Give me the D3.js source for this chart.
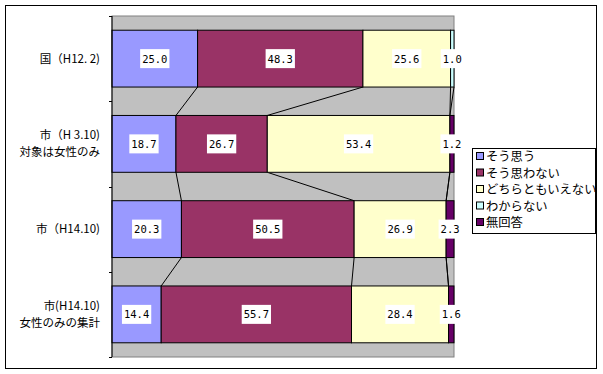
<!DOCTYPE html>
<html>
<head>
<meta charset="utf-8">
<script src="https://cdn.jsdelivr.net/npm/d3@7"></script>
<style>
  body { margin: 0; background: #fff; }
  svg { display: block; }
</style>
</head>
<body>
<svg id="chart" width="603" height="374"></svg>
<script>
// 100% stacked bar chart, answers by survey

const categories = [
  ["国（H12. 2)"],
  ["市（H 3.10)", "対象は女性のみ"],
  ["市（H14.10)"],
  ["市(H14.10)", "女性のみの集計"],
];
const seriesNames = ["そう思う", "そう思わない", "どちらともいえない", "わからない", "無回答"];
const seriesColors = ["#9999FF", "#993366", "#FFFFCC", "#CCFFFF", "#660066"];

const soOmou = [25.0, 18.7, 20.3, 14.4];
const soOmowanai = [48.3, 26.7, 50.5, 55.7];
const dochiraTomo = [25.6, 53.4, 26.9, 28.4];
const wakaranai = [1.0, 0, 0, 0];
const mukaito = [0, 1.2, 2.3, 1.6];

const allSeries = [soOmou, soOmowanai, dochiraTomo, wakaranai, mukaito];

const svg = d3.select("#chart");
const plot = { left: 112, top: 16, right: 454, bottom: 357 };

// outer frame
svg.append("rect")
  .attr("x", 5.5).attr("y", 5.5)
  .attr("width", 591).attr("height", 363)
  .attr("fill", "#fff")
  .attr("stroke", "#000");

// plot background
svg.append("rect")
  .attr("x", plot.left).attr("y", plot.top)
  .attr("width", plot.right - plot.left)
  .attr("height", plot.bottom - plot.top)
  .attr("fill", "#C0C0C0")
  .attr("stroke", "#808080");

const x = d3.scaleLinear().domain([0, 100]).range([plot.left, plot.right]);
const y = d3.scaleBand()
  .domain(d3.range(categories.length))
  .range([plot.top, plot.bottom])
  .paddingInner(1 / 3)
  .paddingOuter(1 / 6);

// build stacked rows (normalized to 100%)
const rows = categories.map((c, i) => {
  const vals = allSeries.map((s) => s[i]);
  const total = d3.sum(vals);
  let acc = 0;
  return vals.map((v, k) => {
    const x0 = (acc / total) * 100;
    acc += v;
    const x1 = (acc / total) * 100;
    return { row: i, series: k, value: v, x0: x0, x1: x1 };
  });
});

// series lines between bars
const lines = svg.append("g");
for (let i = 0; i < rows.length - 1; i++) {
  for (let k = 0; k < seriesNames.length - 1; k++) {
    lines.append("line")
      .attr("x1", x(rows[i][k].x1))
      .attr("y1", y(i) + y.bandwidth())
      .attr("x2", x(rows[i + 1][k].x1))
      .attr("y2", y(i + 1))
      .attr("stroke", "#000")
      .attr("stroke-width", 1);
  }
}

// bars
const segs = rows.flat();
svg.append("g")
  .selectAll("rect")
  .data(segs.filter((d) => d.value > 0))
  .enter()
  .append("rect")
  .attr("x", (d) => x(d.x0))
  .attr("y", (d) => y(d.row))
  .attr("width", (d) => x(d.x1) - x(d.x0))
  .attr("height", y.bandwidth())
  .attr("fill", (d) => seriesColors[d.series])
  .attr("stroke", "#000")
  .attr("stroke-width", 1);

// left axis
svg.append("line")
  .attr("x1", plot.left).attr("x2", plot.left)
  .attr("y1", plot.top).attr("y2", plot.bottom)
  .attr("stroke", "#000");
const tickYs = d3.range(categories.length + 1).map((i) =>
  i === categories.length ? plot.bottom : y(i) - y.step() * y.paddingInner() / 2
);
tickYs[0] = plot.top;
svg.append("g")
  .selectAll("line")
  .data(tickYs)
  .enter()
  .append("line")
  .attr("x1", plot.left - 3).attr("x2", plot.left)
  .attr("y1", (d) => Math.round(d) + 0.5).attr("y2", (d) => Math.round(d) + 0.5)
  .attr("stroke", "#000");

// category labels
const catLabels = svg.append("g");
categories.forEach((lines, i) => {
  const cy = y(i) + y.bandwidth() / 2;
  const t = catLabels.append("text")
    .attr("text-anchor", "end")
    .attr("font-family", "'Noto Sans CJK JP', sans-serif")
    .attr("font-size", 11.5)
    .attr("fill", "#000");
  lines.forEach((ln, j) => {
    t.append("tspan")
      .attr("x", 100)
      .attr("y", cy + (j - (lines.length - 1) / 2) * 17 + 4)
      .text(ln);
  });
});

// data labels with white boxes
const labels = svg.append("g");
segs.filter((d) => d.value > 0).forEach((d) => {
  const cx = (x(d.x0) + x(d.x1)) / 2;
  const cy = y(d.row) + y.bandwidth() / 2;
  const g = labels.append("g");
  const box = g.append("rect").attr("fill", "#fff");
  const t = g.append("text")
    .attr("x", cx)
    .attr("y", cy + 4)
    .attr("text-anchor", "middle")
    .attr("font-family", "'DejaVu Sans Mono', monospace")
    .attr("font-size", 10.5)
    .attr("fill", "#000")
    .text(d.value.toFixed(1));
  const w = t.node().getComputedTextLength();
  box.attr("x", cx - w / 2 - 2)
    .attr("y", cy - 9.5)
    .attr("width", w + 4)
    .attr("height", 19);
});

// legend
const legend = svg.append("g").attr("transform", "translate(472,148)");
legend.append("rect")
  .attr("x", 0.5).attr("y", 0.5)
  .attr("width", 123).attr("height", 85)
  .attr("fill", "#fff")
  .attr("stroke", "#000");
const items = legend.selectAll("g.item")
  .data(seriesNames)
  .enter()
  .append("g")
  .attr("class", "item")
  .attr("transform", (d, i) => `translate(4,${8 + i * 16.5})`);
items.append("rect")
  .attr("x", 0.5).attr("y", -3.5)
  .attr("width", 7).attr("height", 7)
  .attr("fill", (d, i) => seriesColors[i])
  .attr("stroke", "#000");
items.append("text")
  .attr("x", 10)
  .attr("y", 5)
  .attr("font-family", "'Noto Sans CJK JP', sans-serif")
  .attr("font-size", 12.3)
  .attr("fill", "#000")
  .text((d) => d);
</script>
</body>
</html>
